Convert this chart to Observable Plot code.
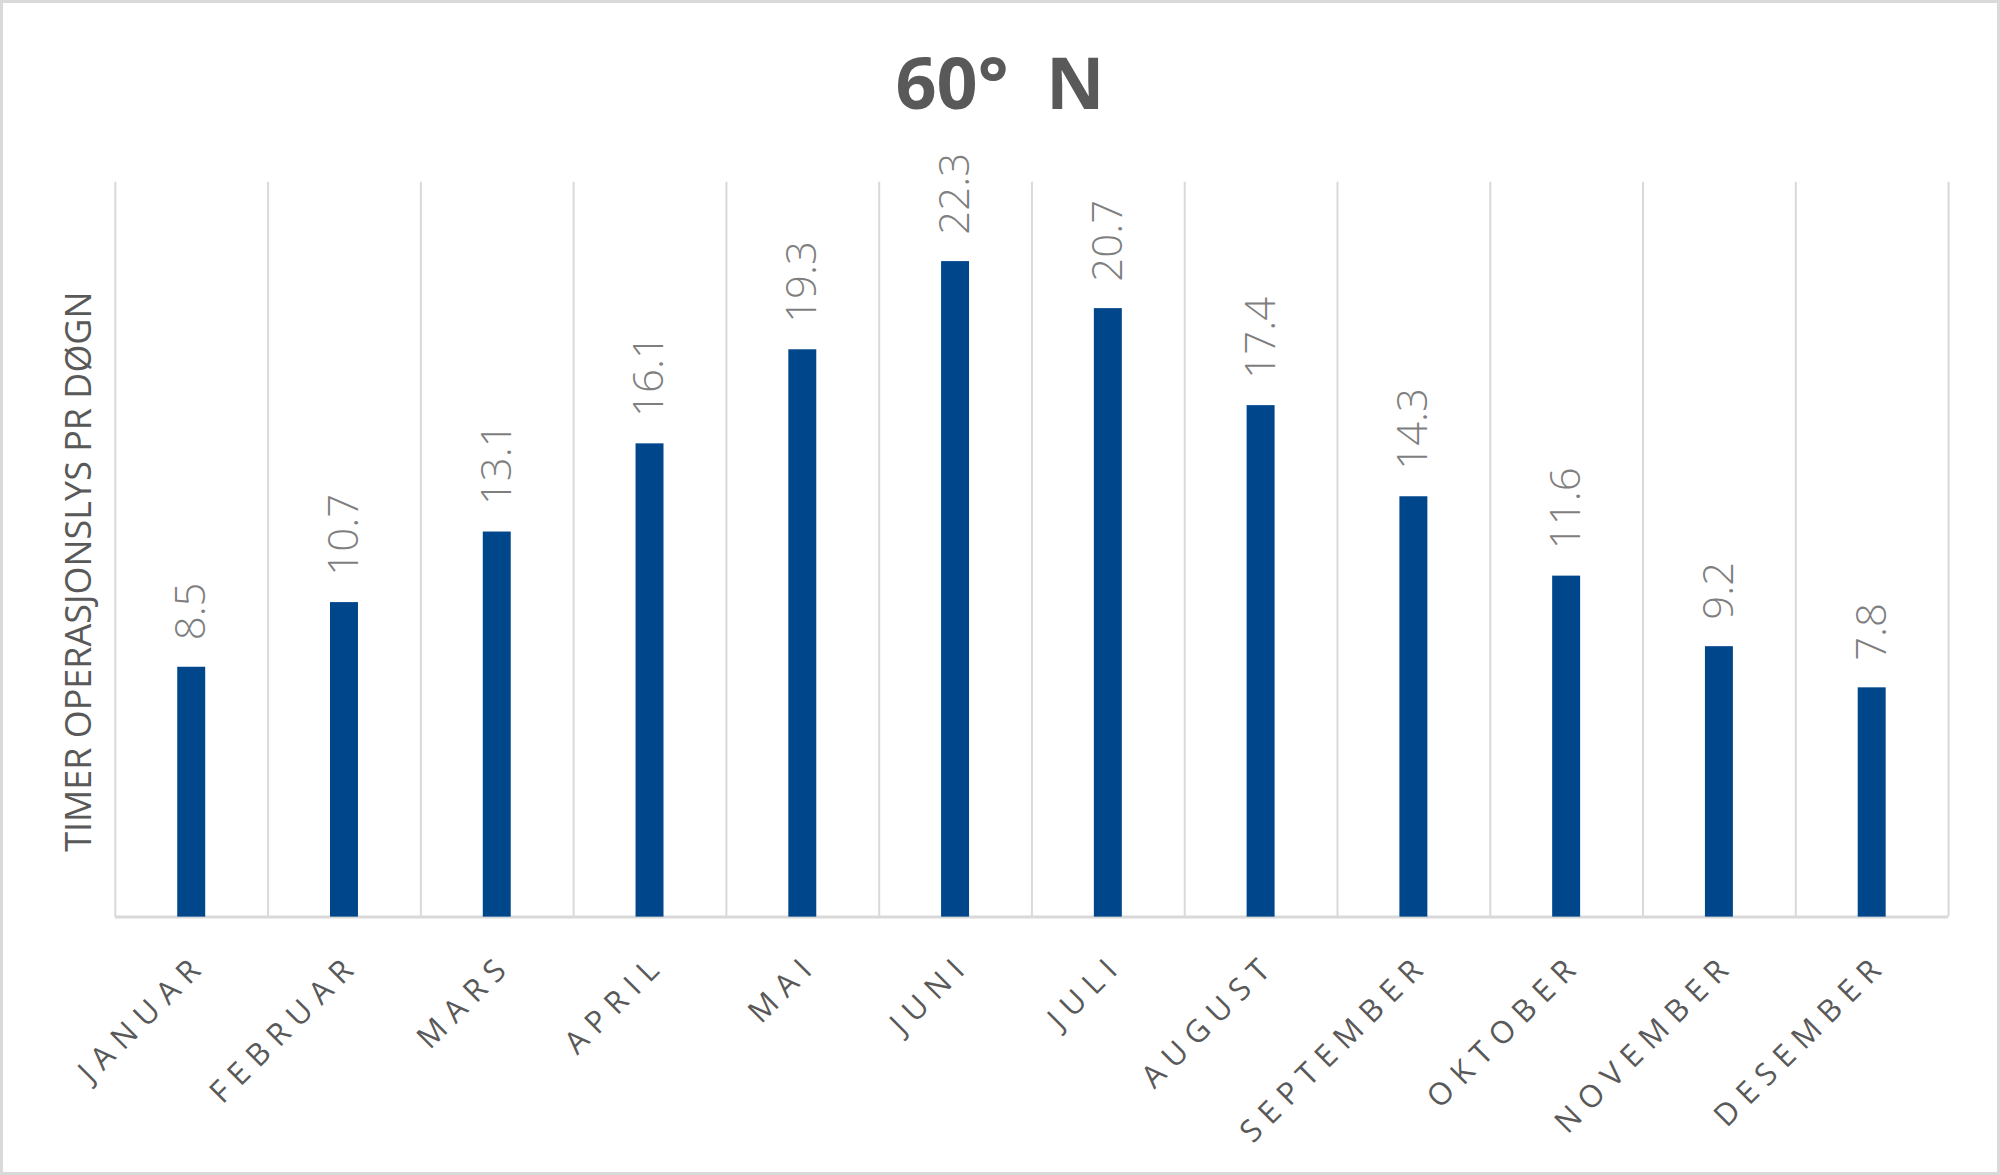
<!DOCTYPE html>
<html><head><meta charset="utf-8">
<script src="https://cdn.jsdelivr.net/npm/d3@7"></script>
<script src="https://cdn.jsdelivr.net/npm/@observablehq/plot@0.6"></script>
<style>
html,body{margin:0;padding:0;background:#fff;}
#frame{position:relative;width:2000px;height:1175px;box-sizing:border-box;border:3px solid #d9d9d9;overflow:hidden;font-family:"Open Sans",sans-serif;}
#title{position:absolute;left:0;right:0;top:42px;text-align:center;font-size:72px;font-weight:700;color:#595959;line-height:1;letter-spacing:0;white-space:pre;}
#chart{position:absolute;left:-3px;top:-3px;}
</style></head><body>
<div id="frame"><div id="title">60°  N</div><div id="chart"></div></div>
<script>
const months = ["JANUAR","FEBRUAR","MARS","APRIL","MAI","JUNI","JULI","AUGUST","SEPTEMBER","OKTOBER","NOVEMBER","DESEMBER"];
const hours = [8.5, 10.7, 13.1, 16.1, 19.3, 22.3, 20.7, 17.4, 14.3, 11.6, 9.2, 7.8];
const yDomain = [0, 25];
const yLabel = "TIMER OPERASJONSLYS PR DØGN";

const data = months.map((m, i) => ({i, month: m, value: hours[i]}));
const edges = d3.range(months.length + 1);

const chart = Plot.plot({
  width: 2000, height: 1175,
  marginTop: 182, marginBottom: 257, marginLeft: 115, marginRight: 49,
  x: {domain: [0, months.length], axis: null},
  y: {domain: yDomain, axis: null},
  style: {fontFamily: "'Open Sans', sans-serif", background: "transparent"},
  marks: [
    Plot.ruleX(edges, {x: d => d, y1: yDomain[0], y2: yDomain[1], stroke: "#d9d9d9", strokeWidth: 2}),
    Plot.ruleY([0], {stroke: "#d9d9d9", strokeWidth: 3}),
    Plot.rectY(data, {x1: d => d.i, x2: d => d.i + 1, y: "value", fill: "#00468b", insetLeft: 62.5, insetRight: 62.5}),
    Plot.text(data, {x: d => d.i + 0.5, y: "value", text: d => d.value.toFixed(1), rotate: -90, textAnchor: "start", dy: -27, fontSize: 42, fontWeight: 300, fill: "#7f7f7f"}),
    Plot.text(data, {x: d => d.i + 0.5, frameAnchor: "bottom", text: "month", rotate: -45, textAnchor: "end", dx: 17, dy: 49, fontSize: 31, fill: "#595959", className: "mlabel"}),
    Plot.text([yLabel], {frameAnchor: "left", text: d => d, rotate: -90, textAnchor: "middle", dx: -36, dy: 22, fontSize: 36, fill: "#595959"})
  ]
});
chart.querySelectorAll(".mlabel text").forEach(t => { t.style.letterSpacing = "9px"; });
document.getElementById("chart").appendChild(chart);
</script>
</body></html>
